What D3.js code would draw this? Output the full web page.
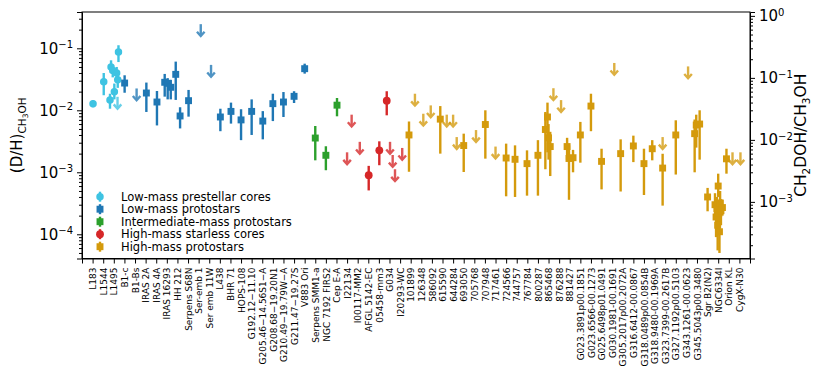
<!DOCTYPE html>
<html>
<head>
<meta charset="utf-8">
<script src="https://cdnjs.cloudflare.com/ajax/libs/d3/7.8.5/d3.min.js"></script>
<style>
  body { margin: 0; background: #fff; }
  svg { font-family: "DejaVu Sans", sans-serif; }
</style>
</head>
<body>
<div id="mainDiv"></div>
<script>
// Source names along the x axis
const sources = ["L183","L1544","L1495","B1-c","B1-Bs","IRAS 2A","IRAS 4A","IRAS 16293","HH 212",
  "Serpens S68N","Ser-emb 1","Ser emb 11W","L438","BHR 71","HOPS-108","G192.12−11.10",
  "G205.46−14.56S1−A","G208.68−19.20N1","G210.49−19.79W−A","G211.47−19.27S","V883 Ori",
  "Serpens SMM1-a","NGC 7192 FIRS2","Cep E-A","I22134","I00117-MM2","AFGL 5142-EC","05458-mm3",
  "G034","I20293-WC","101899","126348","586092","615590","644284","693050","705768","707948",
  "717461","724566","744757","767784","800287","865468","876288","881427","G023.3891p00.1851",
  "G023.6566-00.1273","G025.6498p01.0491","G030.1981-00.1691","G305.2017p00.2072A",
  "G316.6412-00.0867","G318.0489p00.0854B","G318.9480-00.1969A","G323.7399-00.2617B",
  "G327.1192p00.5103","G343.1261-00.0623","G345.5043p00.3480","Sgr B2(N2)","NGC6334I",
  "Orion KL","CygX-N30"];

// detections: [source, shift within category, D/H, lower, upper]
const prestellar = [
  ["L183", 0.04, 0.0128, 0.0112, 0.0145],
  ["L1544", 0.05, 0.029, 0.0175, 0.040],
  ["L1495", -0.36, 0.0146, 0.0106, 0.0185],
  ["L1495", -0.26, 0.050, 0.040, 0.064],
  ["L1495", -0.1, 0.044, 0.034, 0.052],
  ["L1495", 0.05, 0.020, 0.015, 0.027],
  ["L1495", 0.27, 0.040, 0.032, 0.050],
  ["L1495", 0.37, 0.031, 0.023, 0.041],
  ["L1495", 0.44, 0.087, 0.060, 0.112]
];
const prestellarLim = [["L1495", 0.35, 0.0165]];

const lowProto = [
  ["B1-c", 0.02, 0.0275, 0.0192, 0.0367],
  ["IRAS 2A", 0.07, 0.019, 0.0094, 0.028],
  ["IRAS 4A", 0.07, 0.0136, 0.0057, 0.0205],
  ["IRAS 16293", -0.2, 0.0283, 0.0166, 0.0386],
  ["IRAS 16293", 0.08, 0.0272, 0.015, 0.033],
  ["IRAS 16293", 0.37, 0.0235, 0.015, 0.031],
  ["HH 212", -0.16, 0.038, 0.0147, 0.061],
  ["HH 212", 0.25, 0.0081, 0.0051, 0.0112],
  ["Serpens S68N", 0.05, 0.0143, 0.0079, 0.0213],
  ["L438", 0.05, 0.0078, 0.0046, 0.0106],
  ["BHR 71", 0.05, 0.0096, 0.0061, 0.0133],
  ["HOPS-108", 0, 0.0070, 0.0033, 0.0104],
  ["G192.12−11.10", 0, 0.0096, 0.0040, 0.0150],
  ["G205.46−14.56S1−A", 0.05, 0.0067, 0.0034, 0.0097],
  ["G208.68−19.20N1", 0, 0.0128, 0.0067, 0.0185],
  ["G210.49−19.79W−A", 0, 0.0136, 0.0078, 0.0197],
  ["G211.47−19.27S", 0, 0.0168, 0.0131, 0.0203],
  ["V883 Ori", 0, 0.0469, 0.039, 0.0565]
];
// upper limits: [source, shift, limit]
const lowProtoLim = [["B1-Bs", 0.15, 0.0225], ["Ser-emb 1", 0.2, 0.245], ["Ser emb 11W", 0.17, 0.054]];

const interProto = [
  ["Serpens SMM1-a", 0, 0.00357, 0.00156, 0.00558],
  ["NGC 7192 FIRS2", 0, 0.00188, 0.00108, 0.00263],
  ["Cep E-A", 0.05, 0.0121, 0.0080, 0.0158]
];

const starless = [
  ["AFGL 5142-EC", 0.04, 0.00090, 0.00051, 0.00127],
  ["05458-mm3", 0.04, 0.00226, 0.0013, 0.00316],
  ["G034", -0.26, 0.0143, 0.0083, 0.0203]
];
const starlessLim = [["I22134", 0, 0.0021], ["I22134", 0.43, 0.0085], ["I00117-MM2", 0.2, 0.0031],
  ["G034", 0.05, 0.0031], ["G034", 0.3, 0.0019], ["G034", 0.52, 0.00112], ["I20293-WC", 0.2, 0.00247]];

const highProto = [
  ["101899", -0.16, 0.0040, 0.00102, 0.0066],
  ["615590", -0.21, 0.0072, 0.0020, 0.0117],
  ["693050", 0, 0.0027, 0.00101, 0.0042],
  ["707948", 0.04, 0.0059, 0.00166, 0.0100],
  ["724566", 0, 0.0017, 0.00041, 0.0029],
  ["744757", -0.16, 0.00162, 0.0004, 0.00272],
  ["767784", -0.03, 0.00138, 0.00042, 0.00226],
  ["800287", 0, 0.00188, 0.00042, 0.0033],
  ["865468", -0.3, 0.0049, 0.00112, 0.0094],
  ["865468", -0.1, 0.0078, 0.0021, 0.0133],
  ["865468", 0.0, 0.0036, 0.0016, 0.0060],
  ["865468", 0.16, 0.0026, 0.00087, 0.0045],
  ["881427", -0.25, 0.0026, 0.0016, 0.0036],
  ["881427", -0.07, 0.00167, 0.00036, 0.00272],
  ["881427", 0.31, 0.00172, 0.0010, 0.0023],
  ["G023.3891p00.1851", 0, 0.0040, 0.00143, 0.0065],
  ["G023.6566-00.1273", 0, 0.0117, 0.0046, 0.0185],
  ["G025.6498p01.0491", 0, 0.0015, 0.00053, 0.0024],
  ["G305.2017p00.2072A", -0.2, 0.0020, 0.00049, 0.0034],
  ["G316.6412-00.0867", 0, 0.00266, 0.00146, 0.0039],
  ["G318.0489p00.0854B", 0, 0.00138, 0.00043, 0.0024],
  ["G318.9480-00.1969A", -0.22, 0.0024, 0.00156, 0.0033],
  ["G323.7399-00.2617B", -0.24, 0.00117, 0.00029, 0.00199],
  ["G327.1192p00.5103", 0, 0.0040, 0.00092, 0.0069],
  ["G345.5043p00.3480", -0.22, 0.0042, 0.0010, 0.0071],
  ["G345.5043p00.3480", -0.07, 0.0058, 0.0025, 0.0085],
  ["G345.5043p00.3480", 0.25, 0.0060, 0.0016, 0.0100],
  ["Sgr B2(N2)", 0, 0.00040, 0.000235, 0.00056],
  ["NGC6334I", -0.3, 0.00030, 0.00018, 0.00046],
  ["NGC6334I", -0.2, 0.00019, 0.00009, 0.00032],
  ["NGC6334I", -0.12, 0.00026, 0.00012, 0.00040],
  ["NGC6334I", -0.05, 0.00014, 0.000055, 0.00024],
  ["NGC6334I", 0.0, 0.00060, 0.00040, 0.00095],
  ["NGC6334I", 0.06, 0.00022, 0.00010, 0.00036],
  ["NGC6334I", 0.12, 0.00011, 0.00005, 0.00019],
  ["NGC6334I", 0.18, 0.00032, 0.00018, 0.00050],
  ["NGC6334I", 0.26, 0.00024, 0.00014, 0.00037],
  ["NGC6334I", 0.4, 0.00027, 0.00020, 0.00036],
  ["Orion KL", -0.22, 0.00165, 0.00095, 0.0024]
];
const highProtoLim = [["101899", 0.4, 0.0185], ["126348", 0.19, 0.0088], ["586092", -0.11, 0.012],
  ["615590", 0.4, 0.0085], ["644284", 0, 0.0085], ["644284", 0.34, 0.0037], ["705768", 0.16, 0.0048],
  ["717461", 0, 0.0026], ["865468", 0.46, 0.0227], ["876288", 0.18, 0.0146],
  ["G030.1981-00.1691", 0.2, 0.058], ["G323.7399-00.2617B", -0.24, 0.0037],
  ["G343.1261-00.0623", 0.16, 0.051], ["Orion KL", 0.35, 0.0021], ["CygX-N30", 0.1, 0.0021]];

const groupNames = ["Low-mass prestellar cores", "Low-mass protostars", "Intermediate-mass protostars",
  "High-mass starless cores", "High-mass protostars"];

// layout
const width = 830, height = 375;
const margin = {top: 12, right: 80, bottom: 116.5, left: 82};
const plotW = width - margin.left - margin.right,
      plotH = height - margin.top - margin.bottom;

const svg = d3.select("#mainDiv").append("svg")
    .attr("width", width).attr("height", height);
const g = svg.append("g").attr("transform", "translate(" + margin.left + "," + margin.top + ")");

const x = d3.scaleLinear().domain([-1, sources.length]).range([0, plotW]);
const y = d3.scaleLog().domain([4.07e-5, 0.385]).range([plotH, 0]);
// CH2DOH/CH3OH = 3 x (D/H)
const yR = d3.scaleLog().domain([3 * 4.07e-5, 3 * 0.385]).range([plotH, 0]);

function supLabel(sel) {
  sel.each(function(d) {
    const e = Math.round(Math.log10(d));
    const t = d3.select(this).text(null);
    t.append("tspan").text("10");
    t.append("tspan").attr("dy", "-0.55em").attr("font-size", "10px").text(e < 0 ? "−" + (-e) : e);
  });
}

function minorTicks(sc) {
  const [a, b] = sc.domain();
  const out = [];
  for (let e = Math.floor(Math.log10(a)); e <= Math.ceil(Math.log10(b)); e++)
    for (let m = 2; m <= 9; m++) {
      const v = m * Math.pow(10, e);
      if (v >= a && v <= b) out.push(v);
    }
  return out;
}

// left axis
g.append("g").call(d3.axisLeft(y).tickValues(minorTicks(y)).tickSize(3).tickFormat(""))
  .call(s => s.select(".domain").remove());
const yl = g.append("g").call(d3.axisLeft(y).tickValues([1e-4, 1e-3, 1e-2, 1e-1]).tickSize(5).tickPadding(4));
yl.selectAll("text").attr("font-size", "15px").attr("font-family", "DejaVu Sans").call(supLabel);

// right axis
const gr = g.append("g").attr("transform", "translate(" + plotW + ",0)");
gr.append("g").call(d3.axisRight(yR).tickValues(minorTicks(yR)).tickSize(3).tickFormat(""))
  .call(s => s.select(".domain").remove());
const yr = gr.append("g").call(d3.axisRight(yR).tickValues([1e-3, 1e-2, 1e-1, 1]).tickSize(5).tickPadding(4));
yr.selectAll("text").attr("font-size", "15px").attr("font-family", "DejaVu Sans").call(supLabel);

// bottom axis
const xa = g.append("g").attr("transform", "translate(0," + plotH + ")")
  .call(d3.axisBottom(x).tickValues(d3.range(sources.length)).tickFormat(i => sources[i]).tickSize(5));
xa.selectAll("text")
  .attr("font-size", "9px").attr("font-family", "DejaVu Sans")
  .attr("transform", "rotate(-90)")
  .attr("text-anchor", "end")
  .attr("x", -9).attr("y", 0).attr("dy", "0.35em");

// frame
g.append("rect").attr("width", plotW).attr("height", plotH)
  .attr("fill", "none").attr("stroke", "#000").attr("stroke-width", 1);
g.selectAll(".domain").attr("stroke", "#000");

// axis titles
const tl = svg.append("text").attr("transform", "translate(22," + (margin.top + plotH / 2) + ") rotate(-90)")
  .attr("text-anchor", "middle").attr("font-size", "15px");
tl.append("tspan").text("(D/H)");
tl.append("tspan").attr("font-size", "10.5px").attr("dy", 4).text("CH");
tl.append("tspan").attr("font-size", "7.5px").attr("dy", 2).text("3");
tl.append("tspan").attr("font-size", "10.5px").attr("dy", -2).text("OH");

const tr = svg.append("text").attr("transform", "translate(806," + (margin.top + plotH / 2) + ") rotate(-90)")
  .attr("text-anchor", "middle").attr("font-size", "15.5px");
tr.append("tspan").text("CH");
tr.append("tspan").attr("font-size", "10.5px").attr("dy", 4).text("2");
tr.append("tspan").attr("dy", -4).text("DOH/CH");
tr.append("tspan").attr("font-size", "10.5px").attr("dy", 4).text("3");
tr.append("tspan").attr("dy", -4).text("OH");

// marker shapes
const shapes = {
  hex: d3.symbol(d3.symbolCircle, 44)(),
  square: d3.symbol(d3.symbolSquare, 48)(),
  circle: d3.symbol(d3.symbolCircle, 48)()
};

const px = d => x(sources.indexOf(d[0]) + d[1]);

function drawGroup(pts, lims, color, shape) {
  const grp = g.append("g");
  grp.selectAll(".lim").data(lims).enter().append("g")
    .attr("opacity", 0.78)
    .attr("transform", d => "translate(" + px(d) + "," + y(d[2]) + ")")
    .each(function() {
      const a = d3.select(this);
      a.append("line").attr("y1", 0).attr("y2", 11.5)
        .attr("stroke", color).attr("stroke-width", 2.4);
      a.append("path").attr("d", "M-3.8,7.6L0,11.8L3.8,7.6")
        .attr("fill", "none").attr("stroke", color).attr("stroke-width", 2.4);
    });
  grp.selectAll(".eb").data(pts).enter().append("line")
    .attr("x1", px).attr("x2", px)
    .attr("y1", d => y(d[3])).attr("y2", d => y(d[4]))
    .attr("stroke", color).attr("stroke-width", 2.4);
  grp.selectAll(".mk").data(pts).enter().append("path")
    .attr("d", shapes[shape])
    .attr("transform", d => "translate(" + px(d) + "," + y(d[2]) + ")")
    .attr("fill", color);
}

const colors = ["#3ec3e2", "#1f77b4", "#2ca02c", "#d62728", "#d49a0c"];
const shapeOf = ["hex", "square", "square", "circle", "square"];

drawGroup(prestellar, prestellarLim, colors[0], shapeOf[0]);
drawGroup(lowProto, lowProtoLim, colors[1], shapeOf[1]);
drawGroup(interProto, [], colors[2], shapeOf[2]);
drawGroup(starless, starlessLim, colors[3], shapeOf[3]);
drawGroup(highProto, highProtoLim, colors[4], shapeOf[4]);

// legend
const lg = g.append("g").attr("transform", "translate(18,184.7)");
groupNames.forEach((n, i) => {
  const row = lg.append("g").attr("transform", "translate(0," + (i * 12.5) + ")");
  row.append("line").attr("y1", -5).attr("y2", 5).attr("stroke", colors[i]).attr("stroke-width", 2.4);
  row.append("path").attr("d", shapes[shapeOf[i]]).attr("fill", colors[i]);
  row.append("text").attr("x", 21).attr("dy", "0.35em").attr("font-size", "11.5px").text(n);
});
</script>
</body>
</html>
